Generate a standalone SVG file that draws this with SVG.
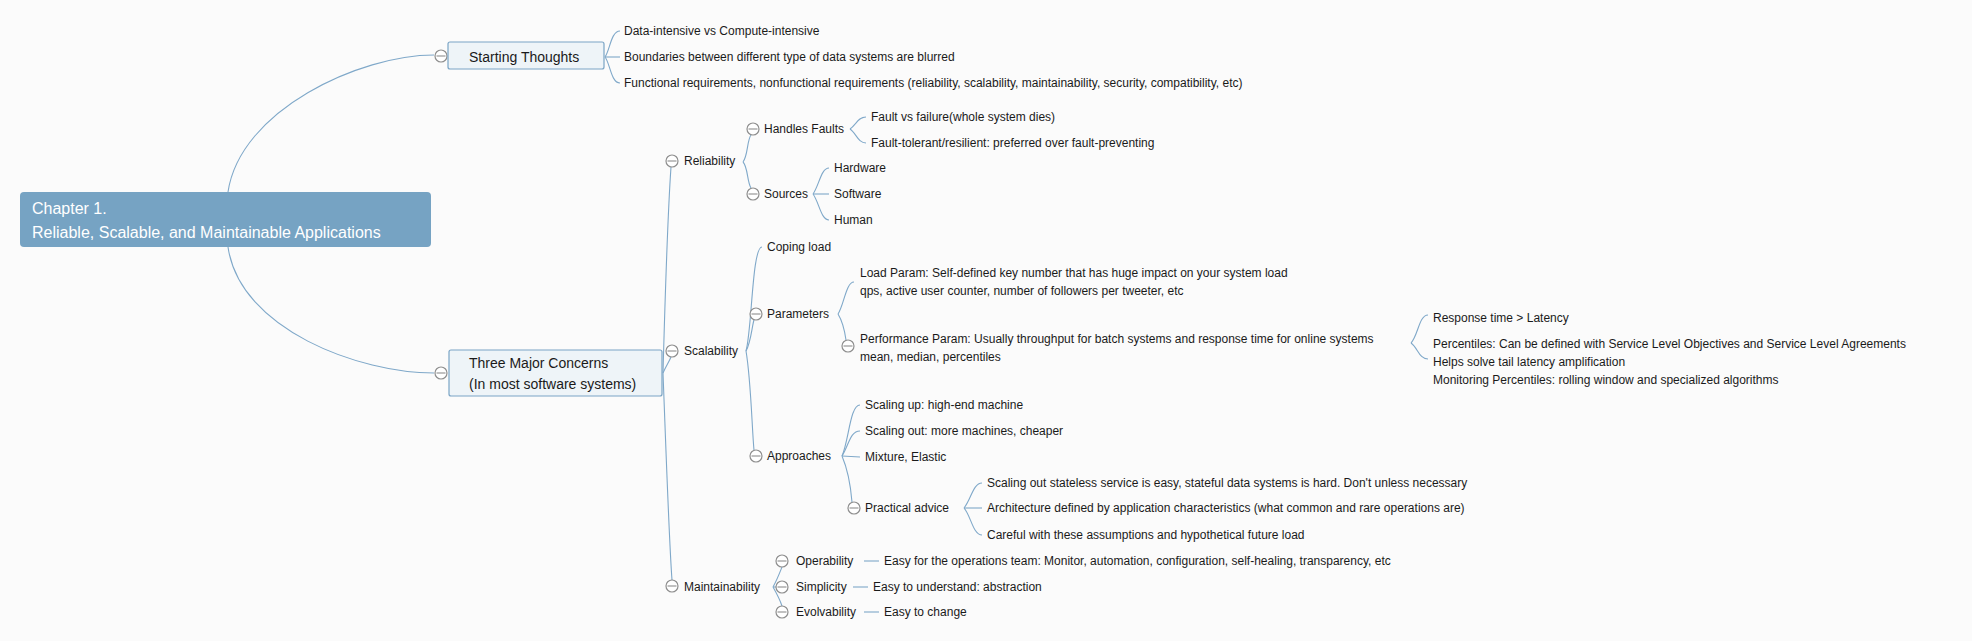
<svg xmlns="http://www.w3.org/2000/svg" width="1972" height="641" viewBox="0 0 1972 641">
<defs>
<style>
.t{font-family:"Liberation Sans",Arial,Helvetica,sans-serif;font-size:12px;fill:#1a1a1a}
.m{font-family:"Liberation Sans",Arial,Helvetica,sans-serif;font-size:14px;fill:#1a1a1a}
.c{font-family:"Liberation Sans",Arial,Helvetica,sans-serif;font-size:16px;fill:#ffffff}
.ln{fill:none;stroke:#7fa8c9;stroke-width:1.1}
.box{fill:#eef4f8;stroke:#7aa4c5;stroke-width:1.2}
.tg{fill:#ffffff;stroke:#8e8e8e;stroke-width:1.2}
.tgl{stroke:#8e8e8e;stroke-width:1.1}
</style>
<g id="toggle"><circle class="tg" cx="0" cy="0" r="6"/><line class="tgl" x1="-4.5" y1="0" x2="4.5" y2="0"/></g>
</defs>
<rect x="0" y="0" width="1972" height="641" fill="#fbfbfb"/>

<g id="connectors">
<path class="ln" d="M228,192 C240,110 360,55 434,55"/>
<path class="ln" d="M228,247 C240,330 360,373 434,373"/>
<path class="ln" d="M605,57 C610,50 611,31 620,31"/>
<path class="ln" d="M605,57 L620,57"/>
<path class="ln" d="M605,57 C610,63 611,83 620,83"/>
<path class="ln" d="M663,373 C665,300 668,210 671,167"/>
<path class="ln" d="M663,373 C666,366 669,362 671,357"/>
<path class="ln" d="M663,373 C666,450 669,540 672,580"/>
<path class="ln" d="M743,162 C748,156 747,140 751,135"/>
<path class="ln" d="M743,162 C748,167 747,182 751,188"/>
<path class="ln" d="M850,129 C856,125 858,117 866,117"/>
<path class="ln" d="M850,129 C856,133 858,143 866,143"/>
<path class="ln" d="M813,194 C819,186 821,168 829,168"/>
<path class="ln" d="M813,194 L829,194"/>
<path class="ln" d="M813,194 C819,202 821,220 829,220"/>
<path class="ln" d="M746,351 C752,330 752,247 762,247"/>
<path class="ln" d="M746,351 C751,342 752,326 754,320"/>
<path class="ln" d="M746,351 C751,380 752,430 754,450"/>
<path class="ln" d="M838,314 C844,305 846,282 854,282"/>
<path class="ln" d="M838,314 C843,322 845,333 846,340"/>
<path class="ln" d="M1411,343 C1418,336 1419,315 1428,315"/>
<path class="ln" d="M1411,343 C1418,348 1419,359 1428,359"/>
<path class="ln" d="M842,456 C849,440 850,405 860,405"/>
<path class="ln" d="M842,456 C849,445 850,431 860,431"/>
<path class="ln" d="M842,456 L860,457"/>
<path class="ln" d="M842,456 C848,470 851,490 852,502"/>
<path class="ln" d="M964,508 C971,500 973,483 982,483"/>
<path class="ln" d="M964,508 L982,508"/>
<path class="ln" d="M964,508 C971,516 973,535 982,535"/>
<path class="ln" d="M773,587 C777,580 780,572 782,567"/>
<path class="ln" d="M773,587 L777,587"/>
<path class="ln" d="M773,587 C777,594 780,600 782,606"/>
<path class="ln" d="M864,561 L879,561"/>
<path class="ln" d="M853,587 L868,587"/>
<path class="ln" d="M864,612 L879,612"/>
</g>

<g id="chapter">
<rect x="20" y="192" width="411" height="55" rx="4" fill="#76a3c3"/>
<text class="c" x="32" y="214">Chapter 1.</text>
<text class="c" x="32" y="238">Reliable, Scalable, and Maintainable Applications</text>
</g>

<g id="starting-thoughts">
<use href="#toggle" x="441" y="56"/>
<rect class="box" x="448" y="42" width="156" height="27" rx="2"/>
<text class="m" x="469" y="62">Starting Thoughts</text>
</g>
<g id="st-1"><text class="t" x="624" y="35">Data-intensive vs Compute-intensive</text></g>
<g id="st-2"><text class="t" x="624" y="61">Boundaries between different type of data systems are blurred</text></g>
<g id="st-3"><text class="t" x="624" y="87">Functional requirements, nonfunctional requirements (reliability, scalability, maintainability, security, compatibility, etc)</text></g>

<g id="three-major">
<use href="#toggle" x="441" y="373"/>
<rect class="box" x="449" y="350" width="213" height="46" rx="2"/>
<text class="m" x="469" y="368">Three Major Concerns</text>
<text class="m" x="469" y="389">(In most software systems)</text>
</g>

<g id="reliability"><use href="#toggle" x="672" y="161"/><text class="t" x="684" y="165">Reliability</text></g>
<g id="handles-faults"><use href="#toggle" x="753" y="129"/><text class="t" x="764" y="133">Handles Faults</text></g>
<g id="hf-1"><text class="t" x="871" y="121">Fault vs failure(whole system dies)</text></g>
<g id="hf-2"><text class="t" x="871" y="147">Fault-tolerant/resilient: preferred over fault-preventing</text></g>
<g id="sources"><use href="#toggle" x="753" y="194"/><text class="t" x="764" y="198">Sources</text></g>
<g id="src-1"><text class="t" x="834" y="172">Hardware</text></g>
<g id="src-2"><text class="t" x="834" y="198">Software</text></g>
<g id="src-3"><text class="t" x="834" y="224">Human</text></g>

<g id="scalability"><use href="#toggle" x="672" y="351"/><text class="t" x="684" y="355">Scalability</text></g>
<g id="coping"><text class="t" x="767" y="251">Coping load</text></g>
<g id="parameters"><use href="#toggle" x="756" y="314"/><text class="t" x="767" y="318">Parameters</text></g>
<g id="load-param"><text class="t" x="860" y="277">Load Param: Self-defined key number that has huge impact on your system load</text><text class="t" x="860" y="295">qps, active user counter, number of followers per tweeter, etc</text></g>
<g id="perf-param"><use href="#toggle" x="848" y="346"/><text class="t" x="860" y="343">Performance Param: Usually throughput for batch systems and response time for online systems</text><text class="t" x="860" y="361">mean, median, percentiles</text></g>
<g id="pp-1"><text class="t" x="1433" y="322">Response time &gt; Latency</text></g>
<g id="pp-2"><text class="t" x="1433" y="348">Percentiles: Can be defined with Service Level Objectives and Service Level Agreements</text><text class="t" x="1433" y="366">Helps solve tail latency amplification</text><text class="t" x="1433" y="384">Monitoring Percentiles: rolling window and specialized algorithms</text></g>
<g id="approaches"><use href="#toggle" x="756" y="456"/><text class="t" x="767" y="460">Approaches</text></g>
<g id="ap-1"><text class="t" x="865" y="409">Scaling up: high-end machine</text></g>
<g id="ap-2"><text class="t" x="865" y="435">Scaling out: more machines, cheaper</text></g>
<g id="ap-3"><text class="t" x="865" y="461">Mixture, Elastic</text></g>
<g id="practical"><use href="#toggle" x="854" y="508"/><text class="t" x="865" y="512">Practical advice</text></g>
<g id="pa-1"><text class="t" x="987" y="487">Scaling out stateless service is easy, stateful data systems is hard. Don't unless necessary</text></g>
<g id="pa-2"><text class="t" x="987" y="512">Architecture defined by application characteristics (what common and rare operations are)</text></g>
<g id="pa-3"><text class="t" x="987" y="539">Careful with these assumptions and hypothetical future load</text></g>

<g id="maintainability"><use href="#toggle" x="672" y="586"/><text class="t" x="684" y="591">Maintainability</text></g>
<g id="operability"><use href="#toggle" x="782" y="561"/><text class="t" x="796" y="565">Operability</text></g>
<g id="op-1"><text class="t" x="884" y="565">Easy for the operations team: Monitor, automation, configuration, self-healing, transparency, etc</text></g>
<g id="simplicity"><use href="#toggle" x="782" y="587"/><text class="t" x="796" y="591">Simplicity</text></g>
<g id="si-1"><text class="t" x="873" y="591">Easy to understand: abstraction</text></g>
<g id="evolvability"><use href="#toggle" x="782" y="612"/><text class="t" x="796" y="616">Evolvability</text></g>
<g id="ev-1"><text class="t" x="884" y="616">Easy to change</text></g>
</svg>
